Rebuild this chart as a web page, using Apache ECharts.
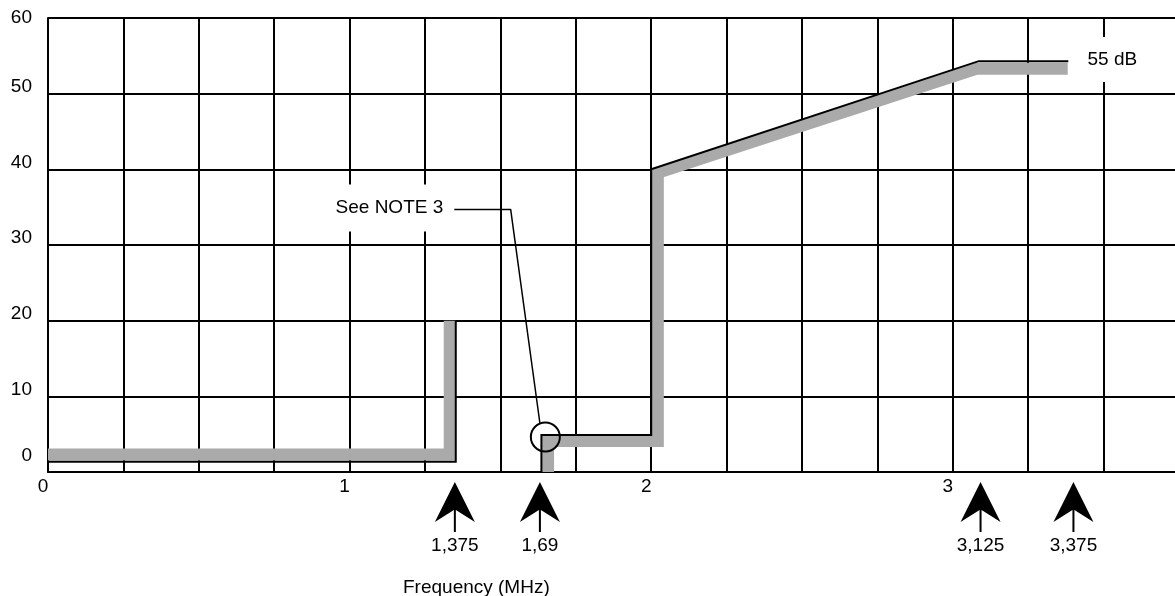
<!DOCTYPE html>
<html>
<head>
<meta charset="utf-8">
<script src="https://cdn.jsdelivr.net/npm/echarts@6/dist/echarts.min.js"></script>
<style>
  html, body { margin: 0; padding: 0; background: #fff; overflow: hidden; }
  /* the plot runs a little past the right edge of the picture */
  #main { width: 1182px; height: 596px; }
</style>
</head>
<body>
<div id="main"></div>
<script>
// mask limit (black) and its shading (grey), points are [MHz, dB]
var lowMaskLine = [[0, 1.36], [1.352, 1.36], [1.352, 20]];
var lowMaskShade = [[0, 2.31], [1.332, 2.31], [1.332, 20]];
var highMaskLine = [[1.636, 0], [1.636, 4.89], [2.0, 4.89], [2.0, 40], [3.086, 54.3], [3.383, 54.3]];
var highMaskShade = [[1.658, 0], [1.658, 4.1], [2.022, 4.1], [2.022, 39.55], [3.078, 53.3], [3.381, 53.3]];

// frequency markers under the axis
var markerFreqs = [1.349, 1.631, 3.092, 3.400];
var markerLabels = ['1,375', '1,69', '3,125', '3,375'];
var markerLevel = -4.63;

// annotations
var noteLeader = [[1.347, 34.7], [1.534, 34.7], [1.631, 6.44]];
var noteCircle = [1.649, 4.63];
var noteText = { text: 'See NOTE 3', x: 1.132, y: 34.9 };
var levelText = { text: '55 dB', x: 3.529, y: 54.5 };

var xLabels = [0, 1, 2, 3];

var FONT = '"Liberation Sans", Arial, sans-serif';
var FS = 19;
var arrowPath = 'path://M20,0 L40,40 L21,28 L21,50 L19,50 L19,28 L0,40 Z';

(function(){
  var myChart = echarts.init(document.getElementById('main'));

  var markerData = markerFreqs.map(function(f, i){
    return { value: [f, markerLevel], label: { formatter: markerLabels[i] } };
  });

  var option = {
    animation: false,
    title: {
      text: 'Frequency (MHz)',
      left: 398,
      top: 573,
      textStyle: { fontFamily: FONT, fontSize: FS, fontWeight: 'normal', color: '#000' }
    },
    grid: { left: 48, right: 0, top: 18, bottom: 124 },
    xAxis: {
      type: 'value',
      min: 0,
      max: 3.75,
      interval: 0.25,
      axisLine: { show: true, onZero: false, lineStyle: { color: '#000', width: 2 } },
      axisTick: { show: false },
      splitLine: { show: true, lineStyle: { color: '#000', width: 2 } },
      axisLabel: {
        margin: 5,
        padding: [0, 10, 0, 0],
        fontFamily: FONT,
        fontSize: FS,
        color: '#000',
        formatter: function(v){
          return xLabels.indexOf(v) >= 0 ? String(v) : '';
        }
      }
    },
    yAxis: {
      type: 'value',
      min: 0,
      max: 60,
      interval: 10,
      axisLine: { show: true, lineStyle: { color: '#000', width: 2 } },
      axisTick: { show: false },
      splitLine: { show: true, lineStyle: { color: '#000', width: 2 } },
      axisLabel: {
        margin: 16,
        fontFamily: FONT,
        fontSize: FS,
        color: '#000',
        formatter: function(v){
          if (v === 0) return '{z|0}';
          if (v === 60) return '{t|60}';
          return '{n|' + v + '}';
        },
        rich: {
          n: { fontFamily: FONT, fontSize: FS, color: '#000', padding: [0, 0, 14, 0] },
          z: { fontFamily: FONT, fontSize: FS, color: '#000', padding: [0, 0, 32, 0] },
          t: { fontFamily: FONT, fontSize: FS, color: '#000' }
        }
      }
    },
    series: [
      {
        name: 'shade low',
        type: 'line',
        data: lowMaskShade,
        showSymbol: false,
        lineStyle: { color: '#aaaaaa', width: 12, cap: 'butt', join: 'miter' },
        z: 3
      },
      {
        name: 'shade high',
        type: 'line',
        data: highMaskShade,
        showSymbol: false,
        lineStyle: { color: '#aaaaaa', width: 12, cap: 'butt', join: 'miter' },
        z: 3
      },
      {
        name: 'mask low',
        type: 'line',
        data: lowMaskLine,
        showSymbol: false,
        lineStyle: { color: '#000', width: 2, join: 'miter' },
        z: 4
      },
      {
        name: 'mask high',
        type: 'line',
        data: highMaskLine,
        showSymbol: false,
        lineStyle: { color: '#000', width: 2, join: 'miter' },
        z: 4
      },
      {
        name: 'leader',
        type: 'line',
        data: noteLeader,
        showSymbol: false,
        lineStyle: { color: '#000', width: 1.5 },
        z: 5
      },
      {
        name: 'circle',
        type: 'scatter',
        data: [noteCircle],
        symbol: 'circle',
        symbolSize: 29,
        itemStyle: { color: 'rgba(0,0,0,0)', borderColor: '#000', borderWidth: 2, opacity: 1 },
        z: 5
      },
      {
        name: 'texts',
        type: 'scatter',
        data: [noteText, levelText].map(function(t, i){
          return {
            value: [t.x, t.y],
            label: {
              formatter: t.text,
              padding: i === 0 ? [12, 6, 16, 6] : [8, 6, 18, 6]
            }
          };
        }),
        symbolSize: 1,
        itemStyle: { color: 'rgba(0,0,0,0)', opacity: 1 },
        label: {
          show: true,
          position: 'inside',
          backgroundColor: '#fff',
          fontFamily: FONT,
          fontSize: FS,
          color: '#000'
        },
        z: 6
      },
      {
        name: 'markers',
        type: 'scatter',
        clip: false,
        data: markerData,
        symbol: arrowPath,
        symbolSize: [40, 50],
        itemStyle: { color: '#000', opacity: 1 },
        label: {
          show: true,
          position: 'bottom',
          distance: 4,
          fontFamily: FONT,
          fontSize: FS,
          color: '#000'
        },
        z: 6
      }
    ]
  };

  myChart.setOption(option);
  window.addEventListener('resize', function(){
    myChart.resize();
  });
})();
</script>
</body>
</html>
